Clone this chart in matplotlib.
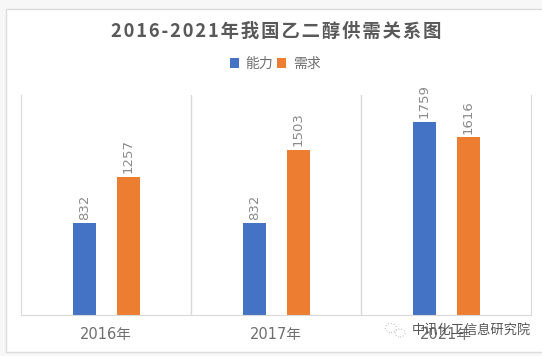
import matplotlib
matplotlib.use("Agg")
import matplotlib.pyplot as plt
from matplotlib.patches import Rectangle, Ellipse
import numpy as np

plt.rcParams['font.family'] = ['Noto Sans CJK SC', 'DejaVu Sans']

years = ["2016年", "2017年", "2021年"]
capacity = [832, 832, 1759]
demand = [1257, 1503, 1616]

W, H = 542, 356
latin_first = ['DejaVu Sans', 'Noto Sans CJK SC']
fig = plt.figure(figsize=(W / 100, H / 100), dpi=100, facecolor="#f7f7f7")

# white card behind the chart
fig.add_artist(Rectangle((6 / W, 1 - 352 / H), 540 / W, 343 / H, transform=fig.transFigure,
                         facecolor="white", edgecolor="#dcdcdc", linewidth=1, zorder=-1))

ax = fig.add_axes([21 / W, 1 - 315 / H, 510 / W, 220 / H])
ax.patch.set_alpha(0)

x = np.arange(len(years))
ax.bar(x - 0.127, capacity, 0.135, color="#4472c4", label="能力")
ax.bar(x + 0.13, demand, 0.135, color="#ed7d31", label="需求")

for i in x:
    ax.text(i - 0.127, capacity[i] + 30, str(capacity[i]), rotation=90, ha="center", va="bottom",
            fontsize=9.5, color="#8a8a8a", family=latin_first)
    ax.text(i + 0.13, demand[i] + 30, str(demand[i]), rotation=90, ha="center", va="bottom",
            fontsize=9.5, color="#8a8a8a", family=latin_first)

ax.set_xlim(-0.5, 2.5)
ax.set_ylim(0, 2000)
ax.set_yticks([])
ax.set_xticks(x)
ax.set_xticklabels(years, fontsize=10.5, color="#6e6e6e", family=latin_first)
ax.tick_params(axis="x", length=0, pad=9)
ax.set_xticks([0.5, 1.5], minor=True)
ax.tick_params(axis="x", which="minor", length=0)
ax.grid(axis="x", which="minor", color="#d9d9d9", linewidth=1)
ax.set_axisbelow(True)
ax.spines["top"].set_visible(False)
for s in ["left", "right", "bottom"]:
    ax.spines[s].set_color("#d9d9d9")

# title with wide letter spacing
title = "2016-2021年我国乙二醇供需关系图"
fig.text(276 / W, 1 - 31 / H, "\u200a".join(title), ha="center", va="center", fontsize=13.2,
         fontweight="bold", color="#595959")

ax.legend(loc="center", bbox_to_anchor=(275 / W, 1 - 64 / H), bbox_transform=fig.transFigure,
          ncol=2, frameon=False, fontsize=10, labelcolor="#6e6e6e", handlelength=0.65,
          handleheight=0.65, handletextpad=0.5, columnspacing=0.25, borderpad=0)

# watermark
icon_color = "#c4c4c4"
fig.add_artist(Ellipse((391 / W, 1 - 328 / H), 11 / W, 9 / H, transform=fig.transFigure,
                       facecolor="none", edgecolor=icon_color, linewidth=0.8, linestyle=":"))
fig.add_artist(Ellipse((400 / W, 1 - 333 / H), 10 / W, 8 / H, transform=fig.transFigure,
                       facecolor="white", edgecolor=icon_color, linewidth=0.8, linestyle=":"))
fig.text(471 / W, 1 - 330 / H, "中讯化工信息研究院", ha="center", va="center", fontsize=9.5,
         color="#555555")

fig.savefig("out.png", dpi=100)
